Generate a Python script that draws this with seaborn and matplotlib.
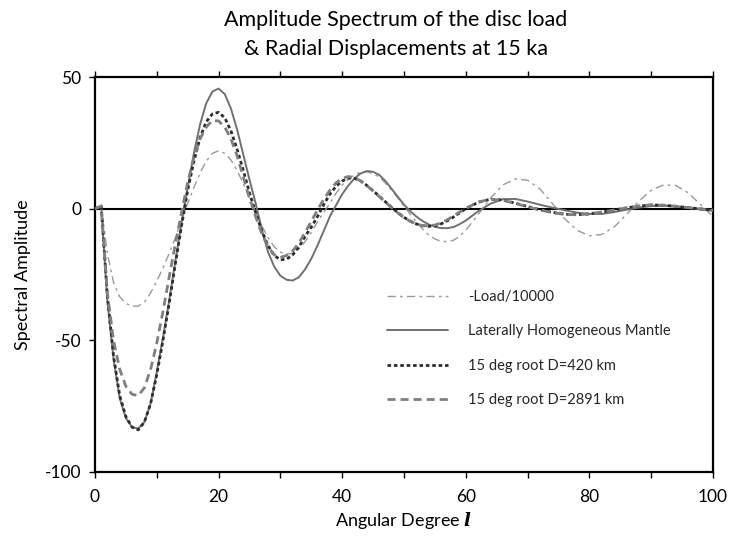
import numpy as np
import pandas as pd
import seaborn as sns
import matplotlib
matplotlib.use("Agg")
import matplotlib.pyplot as plt
from matplotlib.ticker import MultipleLocator

# ---- data ----
degree = list(range(0, 61)) + list(range(62, 101, 2))

load_neg = [0, 1, -17, -28, -33.5, -36, -37, -37, -35.5, -32, -27.5, -22.5, -17, -11, -4.5, 2,
            8, 13.5, 18, 21, 22, 21, 18.5, 14.5, 9.5, 4, -1.5, -6.5, -11, -14.5, -16.5,
            -17.2, -17, -15.3, -12.5, -9, -5, -1.5, 2, 5.8, 9, 11.3, 12.8, 13.9, 14, 13.3,
            12, 9.7, 7, 4.1, 1, -2.1, -5, -7.7, -10, -11.5, -12.4, -12.5, -12, -10.5, -8.2,
            -2.2, 4, 9, 11.3, 10.8, 7.5, 2, -3.8, -8.2, -10.3, -9.8, -7, -2.2, 2.8, 7, 9,
            8.8, 6, 1.5, -3]

homogeneous = [0, 0.8, -35, -57, -72, -79.5, -83, -83.5, -81, -74, -62, -49, -35, -20, -5.5, 8,
               21, 32, 40, 44.5, 45.6, 43.5, 38, 30, 20.5, 11, 2, -8, -16.5, -22, -25.5,
               -27, -27.3, -26, -23, -19, -14, -8.5, -3, 1.3, 5.5, 8.8, 11.5, 13.4, 14.3, 14,
               12.8, 10.5, 7.5, 4.5, 1.5, -0.9, -3, -4.7, -6, -6.9, -7.4, -7.4, -7, -5.9, -4.5,
               -1, 1.9, 3.6, 3.7, 2.7, 1.5, 0.4, -0.6, -1.5, -2, -2, -1.3, -0.4, 0.4, 1, 1.1,
               0.8, 0.3, -0.3, -0.8]

root_420 = [0, 1, -33, -56, -71, -79, -83, -84, -81, -74, -63, -50, -36, -21, -6.5, 7,
            18, 27, 33, 36, 36.6, 34.5, 29.5, 22.5, 14.5, 6, -1.5, -8.5, -14, -17.8, -19.4,
            -19.2, -17.5, -14.5, -10.5, -7, -3, 1.5, 5.5, 8.5, 10.5, 11.6, 11.5, 10.5, 8.8, 6.8,
            4.7, 2.6, 0.5, -1.5, -3.3, -4.7, -5.8, -6.5, -6.7, -6.5, -5.8, -4.6, -3.2, -1.6, 0,
            2.4, 3.6, 3.3, 2.1, 0.8, -0.4, -1.4, -2.1, -2.3, -2, -1.3, -0.5, 0.3, 1, 1.4, 1.3,
            0.9, 0.4, -0.1, -0.6]

root_2891 = [0, 1, -32, -50, -61, -67.5, -70.5, -71, -68, -61, -51, -39, -26, -13.5, -1.5, 10,
             19.5, 26.5, 31, 33.5, 33.3, 31, 26.5, 20, 12, 4, -3, -9.5, -14.5, -17.5, -18.5,
             -17.8, -16, -13, -9, -4.8, -0.5, 3.5, 7, 9.8, 11.5, 12.2, 11.8, 10.5, 8.7, 6.7,
             4.6, 2.5, 0.4, -1.6, -3.4, -4.8, -5.8, -6.4, -6.5, -6.2, -5.4, -4.2, -2.8, -1.3, 0.1,
             2.5, 3.6, 3.2, 2, 0.7, -0.5, -1.5, -2.2, -2.3, -2, -1.3, -0.5, 0.3, 1, 1.4, 1.3,
             0.9, 0.4, -0.1, -0.6]

labels = ["-Load/10000", "Laterally Homogeneous Mantle",
          "15 deg root D=420 km", "15 deg root D=2891 km"]
x_ticks = [0, 20, 40, 60, 80, 100]
y_ticks = [50, 0, -50, -100]

# ---- style ----
sns.set_theme(style="white")
plt.rcParams["font.family"] = ["Lato", "DejaVu Sans"]
plt.rcParams["mathtext.fontset"] = "custom"
plt.rcParams["mathtext.it"] = "DejaVu Serif:italic:bold"
plt.rcParams["mathtext.rm"] = "DejaVu Serif"
plt.rcParams["axes.unicode_minus"] = False

fig = plt.figure(figsize=(7.32, 5.44), dpi=100)
ax = fig.add_axes([95 / 732, 1 - 472 / 544, 618 / 732, 395 / 544])

ax.axhline(0, color="black", lw=1.5, zorder=1)

styles = [
    dict(color="#9a9a9a", lw=1.0, linestyle=(0, (6, 3, 2, 3))),
    dict(color="#707070", lw=1.4, linestyle="-"),
    dict(color="#2e2e2e", lw=2.0, linestyle=(0, (1.3, 1.0))),
    dict(color="#7f7f7f", lw=2.0, linestyle=(0, (2.9, 1.8))),
]
series = [load_neg, homogeneous, root_420, root_2891]
for vals, lab, st in zip(series, labels, styles):
    sns.lineplot(x=degree, y=vals, ax=ax, label=lab, zorder=3, **st)

ax.set_xlim(0, 100)
ax.set_ylim(-100, 50)
ax.set_xticks(x_ticks)
ax.set_yticks(y_ticks)
ax.xaxis.set_minor_locator(MultipleLocator(10))
ax.tick_params(axis="both", which="both", direction="out", length=4, width=1,
               color="black", labelsize=12.5, labelcolor="black")
ax.tick_params(axis="x", which="both", top=True, bottom=True)
ax.tick_params(axis="y", which="both", left=True, right=False, pad=6)
ax.tick_params(axis="x", pad=8)
for sp in ax.spines.values():
    sp.set_color("black")
    sp.set_linewidth(1.6)

ax.set_xlabel("Angular Degree $l$", fontsize=13, labelpad=4, color="black")
ax.set_ylabel("Spectral Amplitude", fontsize=13, labelpad=10, color="black")

fig.text(396 / 732, 1 - 26 / 544, "Amplitude Spectrum of the disc load",
         ha="center", va="baseline", fontsize=15.5, color="black")
fig.text(396 / 732, 1 - 55 / 544, "& Radial Displacements at 15 ka",
         ha="center", va="baseline", fontsize=15.5, color="black")

leg = ax.legend(loc="upper left", bbox_to_anchor=((387 - 95) / 618, (472 - 290) / 395),
                frameon=False, fontsize=10.5, handlelength=4.2, handletextpad=1.35,
                labelspacing=1.4, borderpad=0, borderaxespad=0)

fig.savefig("out.png", dpi=100)
